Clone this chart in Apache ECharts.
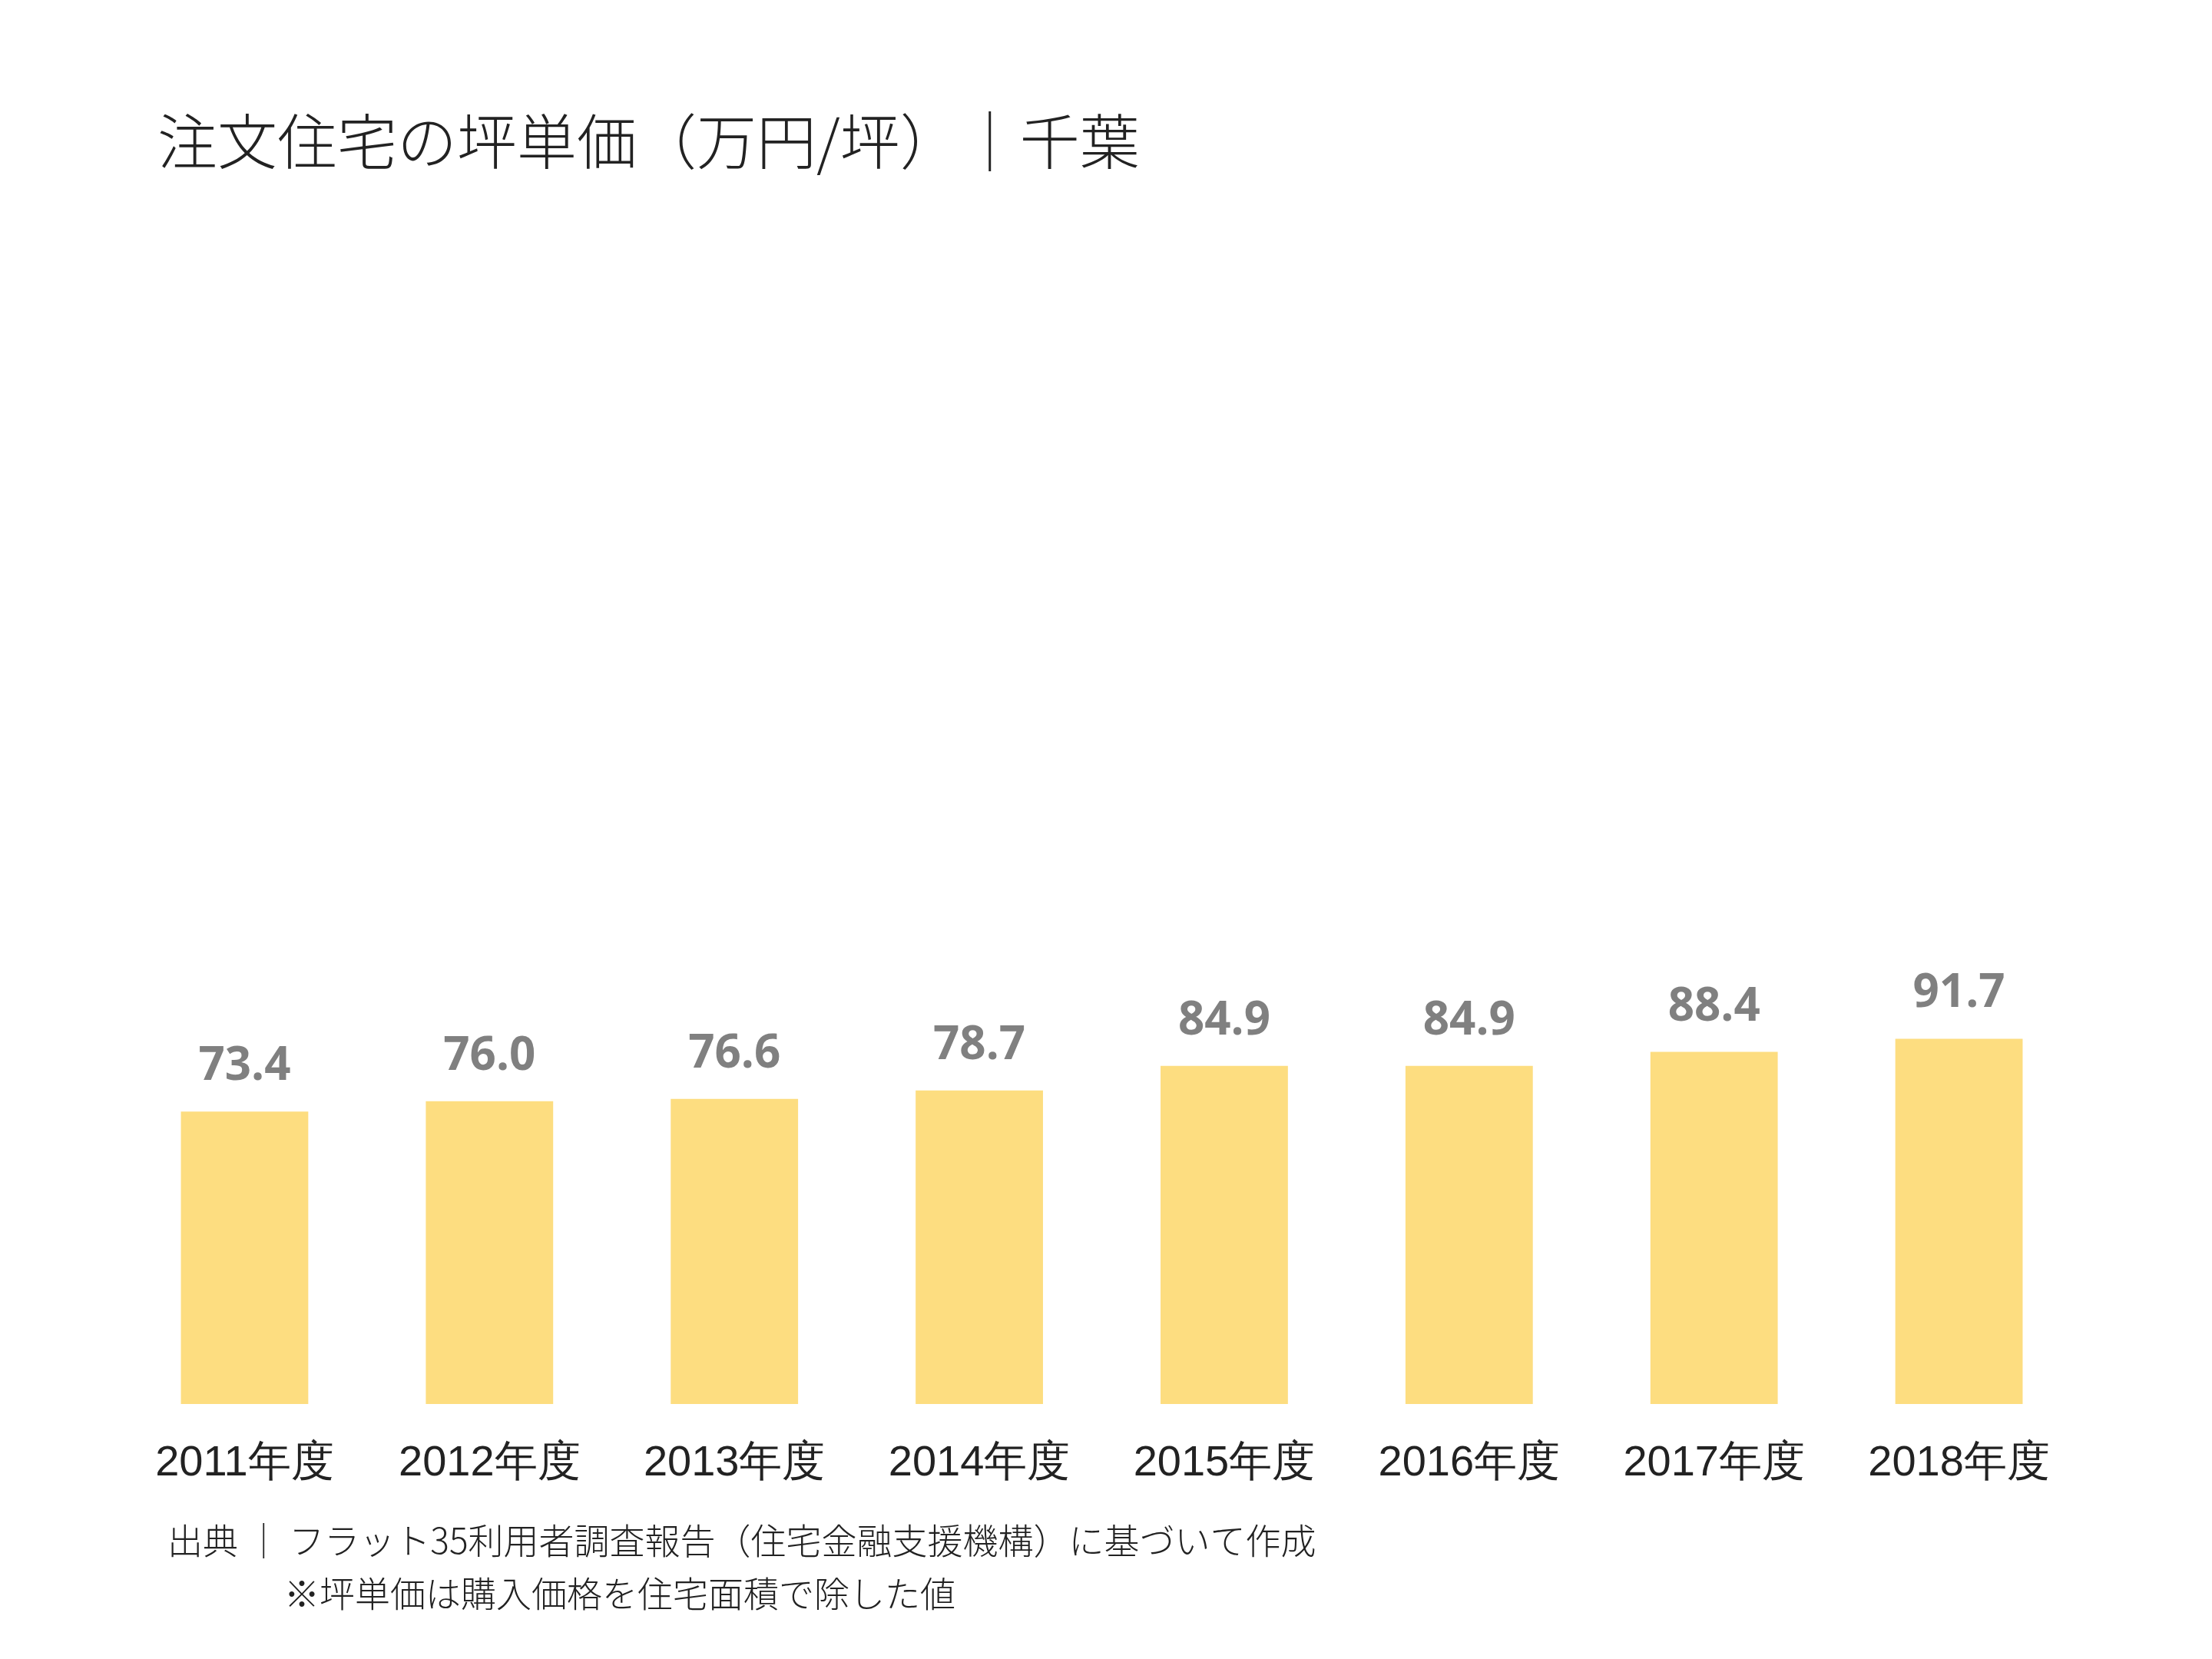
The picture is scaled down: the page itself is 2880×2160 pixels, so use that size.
<!DOCTYPE html>
<html>
<head>
<meta charset="utf-8">
<script src="https://cdn.jsdelivr.net/npm/echarts@6/dist/echarts.min.js"></script>
<style>html,body{margin:0;padding:0;background:#fff}#main{width:2880px;height:2160px}</style>
</head>
<body>
<div id="main"></div>
<script>
const categories = ['2011年度','2012年度','2013年度','2014年度','2015年度','2016年度','2017年度','2018年度'];
const values = [73.4, 76.0, 76.6, 78.7, 84.9, 84.9, 88.4, 91.7];

let myChart = echarts.init(document.getElementById('main'));
myChart.setOption({
  title: {
    text: '注文住宅の坪単価（万円/坪）｜千葉',
    left: 200, top: 140,
    textStyle: {fontFamily: 'Noto Sans CJK JP', fontWeight: 300, fontSize: 78, color: '#222'}
  },
  graphic: [
    {type: 'text', left: 218, top: 1983, style: {text: '出典 ｜ フラット35利用者調査報告（住宅金融支援機構）に基づいて作成', font: '300 46px "Noto Sans CJK JP"', fill: '#222'}},
    {type: 'text', left: 370, top: 2052, style: {text: '※坪単価は購入価格を住宅面積で除した値', font: '300 46px "Noto Sans CJK JP"', fill: '#222'}}
  ],
  grid: {left: 159, right: 170, top: 272, bottom: 332},
  xAxis: {
    type: 'category',
    data: categories,
    axisLine: {show: false},
    axisTick: {show: false},
    axisLabel: {margin: 50, fontSize: 56, color: '#222', fontFamily: 'Liberation Sans'}
  },
  yAxis: {type: 'value', min: 0, max: 300, show: false, splitLine: {show: false}},
  series: [{
    type: 'bar',
    data: values,
    barWidth: '52%',
    itemStyle: {color: '#FDDD80'},
    label: {
      show: true, position: 'top', distance: 28,
      formatter: p => p.value.toFixed(1),
      fontSize: 60, fontWeight: 'bold', color: '#808080', fontFamily: 'Open Sans'
    }
  }]
});
</script>
</body>
</html>
